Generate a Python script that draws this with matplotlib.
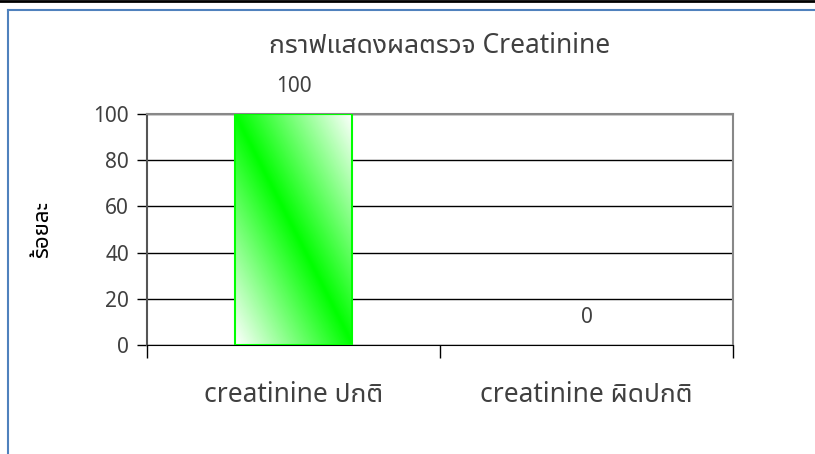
import numpy as np
import matplotlib.pyplot as plt
from matplotlib.colors import LinearSegmentedColormap

plt.rcParams['font.family'] = ['Noto Sans Thai UI', 'Noto Sans', 'DejaVu Sans']

categories = ['creatinine ปกติ', 'creatinine ผิดปกติ']
percent = [100, 0]
title = 'กราฟแสดงผลตรวจ Creatinine'
ylabel = 'ร้อยละ'

fig = plt.figure(figsize=(8.15, 4.54), dpi=100)
fig.patch.set_facecolor('white')

# window frame lines
fig.add_artist(plt.Line2D([0, 1], [0.997, 0.997], color='black', lw=2))
fig.add_artist(plt.Line2D([0.0098, 1], [0.979, 0.979], color='#4f81bd', lw=1.5))
fig.add_artist(plt.Line2D([0.0098, 0.0098], [0, 0.979], color='#4f81bd', lw=1.5))

ax = fig.add_axes([147/815, 109/454, 586/815, 231/454])

x = np.arange(len(categories))
bars = ax.bar(x, percent, width=0.4, color='none', edgecolor='#00ff00', lw=1.5, zorder=3)

# diagonal white-green-white gradient
cmap = LinearSegmentedColormap.from_list('g', ['white', '#00ff00', 'white'])
gx, gy = np.meshgrid(np.linspace(0, 1, 200), np.linspace(0, 1, 200))
grad = (gx + gy) / 2
for b in bars:
    if b.get_height() <= 0:
        b.set_visible(False)
        continue
    bx, by = b.get_x(), b.get_y()
    im = ax.imshow(grad, cmap=cmap, origin='lower', aspect='auto',
                   extent=[bx, bx + b.get_width(), by, by + b.get_height()], zorder=2)
    im.set_clip_path(b)

for xi, v in zip(x, percent):
    ax.annotate(str(v), (xi, v), xytext=(0, 12), textcoords='offset points',
                ha='center', va='bottom', fontsize=15, color='#404040')

ax.set_xlim(-0.5, 1.5)
ax.set_ylim(0, 100)
ax.set_yticks(range(0, 101, 20))
ax.yaxis.grid(True, color='black', lw=1)
ax.set_axisbelow(True)

ax.set_xticks([-0.5, 0.5, 1.5])
ax.set_xticklabels([])
ax.set_xticks(x, minor=True)
ax.set_xticklabels(categories, minor=True)
ax.tick_params(axis='x', which='major', length=9, width=1, color='black')
ax.tick_params(axis='x', which='minor', length=0, pad=26, labelsize=19, labelcolor='#404040')
ax.tick_params(axis='y', length=7, width=1, labelsize=15, labelcolor='#404040', pad=6)

for s in ['top', 'right']:
    ax.spines[s].set_color('#888888')
    ax.spines[s].set_linewidth(1.5)
ax.spines['left'].set_color('#555555')
ax.spines['left'].set_linewidth(1.5)
ax.spines['bottom'].set_color('black')

ax.set_title(title, fontsize=19, color='#404040', pad=44)
ax.set_ylabel(ylabel, fontsize=16, fontweight='bold')
ax.yaxis.set_label_coords(-0.16, 0.5)

fig.savefig('out.png', dpi=100)
